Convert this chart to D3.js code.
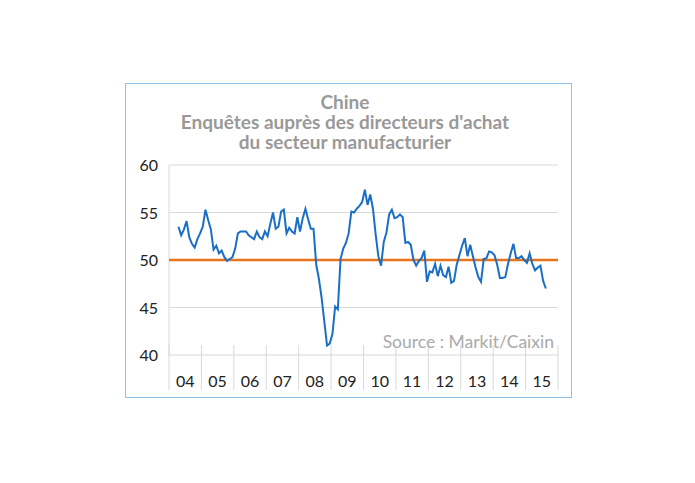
<!DOCTYPE html>
<html><head><meta charset="utf-8">
<script src="https://d3js.org/d3.v7.min.js"></script>
<style>body{margin:0;background:#fff;font-family:Lato,"Open Sans",sans-serif;}</style>
</head><body>
<div id="chart"></div>
<script>
// monthly PMI, Apr 2004 .. Aug 2015
var years = ["04","05","06","07","08","09","10","11","12","13","14","15"];
var yTicks = [40, 45, 50, 55, 60];
var pmi2004 = [53.5, 52.6, 53.2, 54.1, 52.4, 51.7, 51.3, 52.2, 52.8];
var pmi2005 = [53.5, 55.3, 54.2, 53.2, 51.1, 51.5, 50.7, 51.0, 50.3, 49.9, 50.1, 50.3];
var pmi2006 = [51.2, 52.8, 53.0, 53.0, 53.0, 52.6, 52.4, 52.2, 53.0, 52.4, 52.2, 53.0];
var pmi2007 = [52.5, 53.8, 55.0, 53.3, 53.5, 55.1, 55.3, 52.8, 53.4, 53.0, 52.8, 54.5];
var pmi2008 = [53.0, 54.4, 55.4, 54.3, 53.3, 53.3, 49.5, 48.0, 46.0, 43.5, 41.0, 41.2];
var pmi2009 = [42.2, 45.1, 44.8, 50.1, 51.2, 51.8, 52.8, 55.1, 55.0, 55.4, 55.7, 56.1];
var pmi2010 = [57.4, 55.8, 56.9, 55.4, 52.7, 50.4, 49.4, 51.9, 52.9, 54.8, 55.3, 54.4];
var pmi2011 = [54.5, 54.8, 54.5, 51.8, 51.9, 51.6, 50.0, 49.4, 49.9, 50.2, 51.0, 47.7];
var pmi2012 = [48.8, 48.7, 49.6, 48.3, 49.4, 48.4, 48.2, 49.3, 47.6, 47.8, 49.5, 50.5];
var pmi2013 = [51.5, 52.3, 50.4, 51.6, 50.4, 49.2, 48.2, 47.7, 50.1, 50.2, 50.9, 50.8];
var pmi2014 = [50.5, 49.5, 48.1, 48.1, 48.2, 49.6, 50.7, 51.7, 50.2, 50.2, 50.4, 50.0];
var pmi2015 = [49.7, 50.7, 49.6, 48.9, 49.2, 49.4, 47.8, 47.0];
var threshold = 50;

var series = [];
[pmi2004, pmi2005, pmi2006, pmi2007, pmi2008, pmi2009, pmi2010, pmi2011, pmi2012, pmi2013, pmi2014, pmi2015]
  .forEach(function(arr, yi) {
    var start = yi === 0 ? 3 : 0;
    arr.forEach(function(v, i) { series.push({t: yi + (start + i + 0.5) / 12, v: v}); });
  });

var svg = d3.select("#chart").append("svg").attr("width", 695).attr("height", 483);

svg.append("rect").attr("x", 125.5).attr("y", 83.5).attr("width", 446).attr("height", 314)
  .attr("fill", "none").attr("stroke", "#8ec2e8").attr("stroke-width", 1);

var title = ["Chine", "Enquêtes auprès des directeurs d'achat", "du secteur manufacturier"];
svg.selectAll("text.title").data(title).enter().append("text")
  .attr("x", 345).attr("y", function(d, i) { return 109 + i * 20; })
  .attr("text-anchor", "middle").attr("fill", "#999").style("font-size", "19px").style("font-weight", "bold")
  .text(function(d) { return d; });

var x = d3.scaleLinear().domain([0, years.length]).range([169, 558]);
var y = d3.scaleLinear().domain([40, 60]).range([355, 165]);

svg.selectAll("line.grid").data(yTicks).enter().append("line")
  .attr("x1", 169).attr("x2", 558).attr("y1", function(d) { return y(d); }).attr("y2", function(d) { return y(d); })
  .attr("stroke", "#d9d9d9").attr("stroke-width", 1);

svg.append("line").attr("x1", 169).attr("x2", 169).attr("y1", 165).attr("y2", 355).attr("stroke", "#d9d9d9");

svg.selectAll("line.sep").data(d3.range(years.length + 1)).enter().append("line")
  .attr("x1", function(d) { return x(d); }).attr("x2", function(d) { return x(d); })
  .attr("y1", 345).attr("y2", 390).attr("stroke", "#d9d9d9");

svg.selectAll("text.yl").data(yTicks).enter().append("text")
  .attr("x", 158).attr("y", function(d) { return y(d) + 6; }).attr("text-anchor", "end")
  .style("font-size", "16px").attr("fill", "#222").text(function(d) { return d; });

svg.selectAll("text.xl").data(years).enter().append("text")
  .attr("x", function(d, i) { return x(i + 0.5); }).attr("y", 387).attr("text-anchor", "middle")
  .style("font-size", "16px").attr("fill", "#222").text(function(d) { return d; });

svg.append("text").attr("x", 554).attr("y", 348).attr("text-anchor", "end")
  .style("font-size", "17.5px").attr("fill", "#aaa").text("Source : Markit/Caixin");

svg.append("line").attr("x1", 169).attr("x2", 558).attr("y1", y(threshold)).attr("y2", y(threshold))
  .attr("stroke", "#e8731a").attr("stroke-width", 2.5);

svg.append("path").datum(series).attr("fill", "none").attr("stroke", "#1a6fc4").attr("stroke-width", 2)
  .attr("d", d3.line().x(function(d) { return x(d.t); }).y(function(d) { return y(d.v); }));
</script>
</body></html>
